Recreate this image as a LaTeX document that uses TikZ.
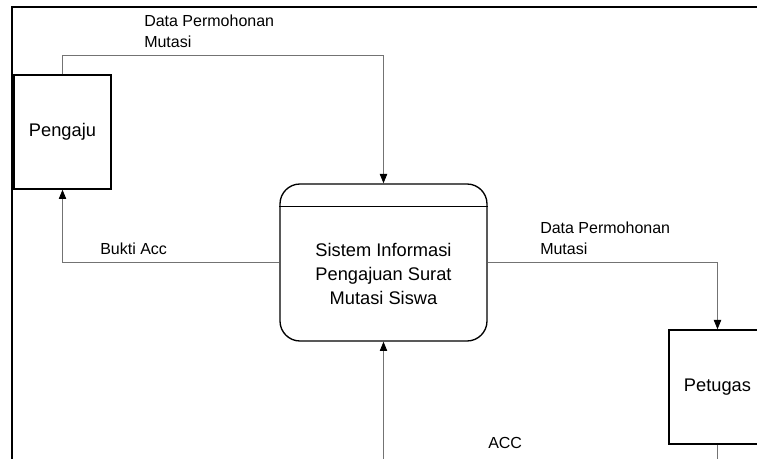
\documentclass[tikz,border=0pt]{standalone}
\usepackage{fontspec}
\setmainfont{Liberation Sans}
\usetikzlibrary{arrows.meta}

\tikzset{
	entity/.style={draw, line width=1pt, minimum width=72.75pt, minimum height=85.5pt, inner sep=0pt, font=\fontsize{13.7}{16}\selectfont},
	process/.style={draw, line width=1pt, rounded corners=15pt, minimum width=155.25pt, minimum height=117.75pt, inner sep=0pt},
	flow/.style={draw=black!55, line width=0.6pt, -{Triangle[length=7pt,width=5.5pt,color=black]}},
	flowlabel/.style={align=left, inner sep=0pt, anchor=north west, font=\fontsize{12}{15.75}\selectfont}
}

\begin{document}
\begin{tikzpicture}[x=0.75pt,y=-0.75pt]
			\useasboundingbox (0,0) rectangle (757,459);
			\clip (0,0) rectangle (757,459);
			% frame
			\draw[line width=1.5pt] (12,459) -- (12,7) -- (757,7);

			\node[entity] (pengaju) at (62.5,132) {Pengaju};
			\node[entity] (petugas) at (717.5,387) {Petugas};
			\node[process] (sistem) at (383.5,262.5) {};
			\draw[line width=0.6pt] ([yshift=-17.25pt]sistem.north west) -- ([yshift=-17.25pt]sistem.north east);
			\node[align=center, inner sep=0pt, anchor=north, font=\fontsize{13.7}{18}\selectfont] (sistemtext) at (383.5,243) {Sistem Informasi\\Pengajuan Surat\\Mutasi Siswa};

			\coordinate (accsrc) at (383.5,459);
			\coordinate (petout) at (717.5,459);

			\draw[flow] (pengaju.north) -- ++(0,-19) -| (sistem.north);
			\draw[flow] (sistem.west) -| (pengaju.south);
			\draw[flow] (sistem.east) -| (petugas.north);
			\draw[flow] (accsrc) -- (sistem.south);
			\draw[draw=black!55, line width=0.6pt] (petugas.south) -- (petout);

			\node[flowlabel] (lbltop) at (144,15) {Data Permohonan\\Mutasi};
			\node[flowlabel] (lblright) at (540,222) {Data Permohonan\\Mutasi};
			\node[flowlabel] (lblbukti) at (100,243) {Bukti Acc};
			\node[flowlabel] (lblacc) at (488,437) {ACC};
		\end{tikzpicture}
\end{document}
